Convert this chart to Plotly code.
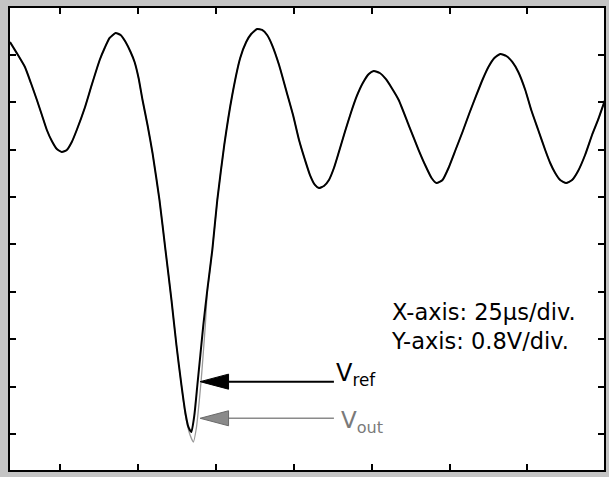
import plotly.graph_objects as go

# Time axis (µs) and voltage (V) (Vref)
t_ref = [9.02, 11.57, 13.81, 15.73, 17.65, 19.25, 20.84, 22.44, 24.04, 25.64,
         27.24, 28.84, 30.43, 32.99, 35.23, 37.79, 39.39, 40.98, 42.90, 44.50,
         46.10, 47.70, 48.98, 50.26, 51.53, 53.13, 54.73, 56.97, 58.89, 60.81,
         62.40, 64.00, 65.28, 66.24, 67.20, 68.16, 69.12, 70.08, 71.04, 72.31,
         73.91, 75.51, 77.75, 80.31, 82.86, 84.78, 86.38, 88.30, 89.90, 91.50,
         93.09, 95.33, 97.57, 99.81, 101.73, 103.65, 105.24, 106.84, 108.12, 109.72,
         111.32, 112.92, 114.51, 116.43, 118.35, 120.27, 122.19, 124.11, 125.70, 127.62,
         129.54, 131.46, 133.70, 136.89, 140.09, 142.33, 144.24, 145.84, 147.76, 149.68,
         151.92, 154.16, 156.39, 158.63, 160.55, 162.47, 164.39, 166.30, 168.22, 170.14,
         172.06, 174.30, 176.21, 178.45, 180.69, 182.29, 183.89, 185.49, 187.40, 189.32,
         191.24, 193.48, 195.72, 197.63, 199.87]
v_ref = [6.616, 6.397, 6.194, 5.924, 5.637, 5.384, 5.131, 4.945, 4.810, 4.759,
         4.793, 4.928, 5.131, 5.502, 5.890, 6.312, 6.515, 6.684, 6.768, 6.734,
         6.616, 6.447, 6.279, 6.008, 5.637, 5.215, 4.743, 3.949, 3.105, 2.262,
         1.502, 0.827, 0.354, 0.118, 0.034, 0.321, 0.827, 1.333, 1.840, 2.430,
         3.105, 3.949, 4.878, 5.722, 6.346, 6.616, 6.751, 6.835, 6.819, 6.734,
         6.565, 6.228, 5.806, 5.384, 4.962, 4.624, 4.371, 4.203, 4.152, 4.186,
         4.287, 4.489, 4.759, 5.097, 5.418, 5.705, 5.924, 6.076, 6.127, 6.093,
         5.992, 5.840, 5.637, 5.215, 4.793, 4.523, 4.321, 4.236, 4.287, 4.489,
         4.793, 5.097, 5.418, 5.722, 5.975, 6.194, 6.346, 6.414, 6.380, 6.279,
         6.110, 5.806, 5.468, 5.131, 4.793, 4.574, 4.405, 4.287, 4.236, 4.287,
         4.439, 4.709, 5.046, 5.300, 5.637]

# Vout follows Vref except around the deep dip, where it lags slightly and goes lower
dip_t_out = [65.28, 66.56, 67.84, 68.80, 69.76, 70.40, 71.04, 71.68, 72.31]
dip_v_out = [0.321, 0.017, -0.135, 0.101, 0.574, 0.945, 1.384, 1.840, 2.397]
t_out = t_ref[:32] + dip_t_out + t_ref[40:]
v_out = v_ref[:32] + dip_v_out + v_ref[40:]

x_ticks = [25, 50, 75, 100, 125, 150, 175]
y_ticks = [0, 0.8, 1.6, 2.4, 3.2, 4.0, 4.8, 5.6, 6.4]

# Arrow annotations (data units)
arrow_tip_t = 70.0
arrow_base_t = 79.12
arrow_end_t = 112.92
arrow_half = 0.127
ref_arrow_v = 0.883
out_arrow_v = 0.265

FONT = "DejaVu Sans"

fig = go.Figure()
fig.add_trace(go.Scatter(x=t_out, y=v_out, mode="lines",
                         line=dict(color="#9a9a9a", width=1.3, shape="spline", smoothing=0.5),
                         name="Vout", hoverinfo="skip"))
fig.add_trace(go.Scatter(x=t_ref, y=v_ref, mode="lines",
                         line=dict(color="#000000", width=2, shape="spline", smoothing=0.5),
                         name="Vref", hoverinfo="skip"))

shapes = []
# Vref arrow
shapes.append(dict(type="line", x0=arrow_base_t, x1=arrow_end_t, y0=ref_arrow_v, y1=ref_arrow_v,
                   xref="x", yref="y", line=dict(color="black", width=2)))
shapes.append(dict(type="path", xref="x", yref="y",
                   path=f"M {arrow_tip_t},{ref_arrow_v} L {arrow_base_t},{ref_arrow_v + arrow_half} "
                        f"L {arrow_base_t},{ref_arrow_v - arrow_half} Z",
                   fillcolor="black", line=dict(color="black", width=1)))
# Vout arrow
shapes.append(dict(type="line", x0=arrow_base_t, x1=arrow_end_t, y0=out_arrow_v, y1=out_arrow_v,
                   xref="x", yref="y", line=dict(color="#8a8a8a", width=1.5)))
shapes.append(dict(type="path", xref="x", yref="y",
                   path=f"M {arrow_tip_t},{out_arrow_v} L {arrow_base_t},{out_arrow_v + arrow_half} "
                        f"L {arrow_base_t},{out_arrow_v - arrow_half} Z",
                   fillcolor="#8a8a8a", line=dict(color="#6a6a6a", width=1)))

annotations = [
    dict(x=112.9, y=1.0, xref="x", yref="y", xanchor="left", yanchor="middle",
         text="V<sub>ref</sub>", showarrow=False,
         font=dict(family=FONT, size=24, color="black")),
    dict(x=114.6, y=0.21, xref="x", yref="y", xanchor="left", yanchor="middle",
         text="V<sub>out</sub>", showarrow=False,
         font=dict(family=FONT, size=23, color="#7a7a7a")),
    dict(x=130.6, y=1.81, xref="x", yref="y", xanchor="left", yanchor="middle",
         align="left", text="X-axis: 25µs/div.<br>Y-axis: 0.8V/div.", showarrow=False,
         font=dict(family=FONT, size=22.5, color="black")),
]

axis_common = dict(showline=True, linecolor="black", linewidth=2, mirror="ticks",
                   ticks="inside", ticklen=6, tickwidth=2, tickcolor="black",
                   showticklabels=False, showgrid=False, zeroline=False)

fig.update_layout(
    width=609, height=477,
    margin=dict(l=10, r=3, t=8, b=7),
    paper_bgcolor="#c4c4c4",
    plot_bgcolor="white",
    showlegend=False,
    shapes=shapes,
    annotations=annotations,
    xaxis=dict(range=[9.02, 199.55], tickvals=x_ticks, **axis_common),
    yaxis=dict(range=[-0.608, 7.19], tickvals=y_ticks, **axis_common),
)

fig.write_html(
    "out.html",
    config={"displayModeBar": False},
    post_script="document.body.style.margin='0';document.body.style.overflow='hidden';",
)
